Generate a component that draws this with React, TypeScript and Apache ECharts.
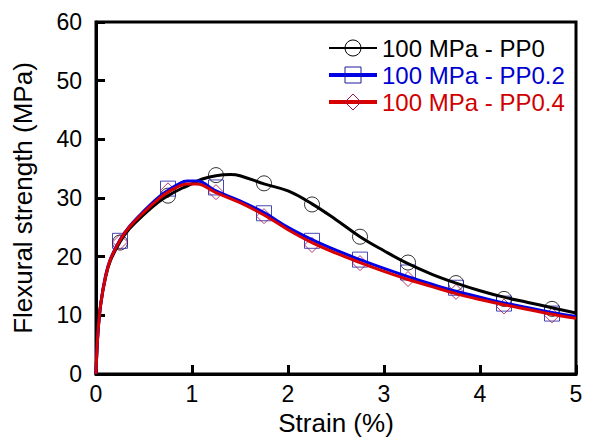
import React, { useEffect, useRef } from "react";
import * as echarts from "echarts";

// Smoothed curves (strain %, flexural strength MPa)
const curveStrainPP0 = [0, 0.02, 0.05, 0.1, 0.15, 0.25, 0.35, 0.5, 0.65, 0.75, 0.9, 1.0, 1.1, 1.25, 1.4, 1.5, 1.75, 2.0, 2.25, 2.5, 2.75, 3.0, 3.25, 3.5, 3.75, 4.0, 4.25, 4.5, 4.75, 5.0];
const curvePP0 = [0, 7, 12, 16.5, 19.3, 22.5, 24.8, 27.2, 29.3, 30.4, 31.7, 32.4, 33.2, 33.8, 34.0, 33.8, 32.4, 31.2, 29.0, 26.3, 23.4, 21.0, 18.8, 17.0, 15.5, 14.2, 13.1, 12.2, 11.3, 10.4];

const curveStrainPP = [0, 0.02, 0.05, 0.1, 0.15, 0.25, 0.35, 0.5, 0.65, 0.75, 0.85, 0.95, 1.05, 1.25, 1.5, 1.75, 2.0, 2.25, 2.5, 2.75, 3.0, 3.25, 3.5, 3.75, 4.0, 4.25, 4.5, 4.75, 5.0];
const curvePP02 = [0, 7, 12, 16.8, 19.6, 22.9, 25.2, 27.8, 30.1, 31.3, 32.3, 32.9, 32.9, 31.2, 29.5, 27.5, 25.0, 22.9, 21.1, 19.5, 18.0, 16.6, 15.3, 14.1, 13.1, 12.1, 11.3, 10.5, 9.8];
const curvePP04 = [0, 7, 12, 16.6, 19.5, 22.8, 25.1, 27.6, 29.8, 31.0, 31.9, 32.4, 32.4, 30.9, 29.2, 27.1, 24.6, 22.4, 20.6, 19.0, 17.5, 16.1, 14.9, 13.7, 12.7, 11.8, 11.0, 10.2, 9.5];

// Measured points (markers)
const markerStrain = [0.25, 0.75, 1.25, 1.75, 2.25, 2.75, 3.25, 3.75, 4.25, 4.75];
const markersPP0 = [22.4, 30.4, 33.9, 32.5, 28.9, 23.4, 19.0, 15.5, 12.8, 11.1];
const markersPP02 = [22.7, 31.6, 31.8, 27.4, 22.7, 19.5, 17.3, 14.7, 12.0, 10.3];
const markersPP04 = [22.5, 31.3, 31.0, 26.9, 22.0, 18.9, 16.2, 14.0, 11.5, 10.0];

const seriesNames = ["100 MPa - PP0", "100 MPa - PP0.2", "100 MPa - PP0.4"];
const xTicks = [0, 1, 2, 3, 4, 5];
const yTicks = [0, 10, 20, 30, 40, 50, 60];

const FONT = "'Liberation Sans', Arial, sans-serif";

const zip = (xs: number[], ys: number[]) => xs.map((x, i) => [x, ys[i]]);

export default function App() {
  const ref = useRef<HTMLDivElement>(null);

  useEffect(() => {
    if (!ref.current) return;
    const chart = echarts.init(ref.current, null, { renderer: "svg" });

    const defs = [
      { name: seriesNames[0], line: "#000000", text: "#000000", marker: "#000000", symbol: "circle", curveX: curveStrainPP0, curveY: curvePP0, mY: markersPP0, legendWidth: 2 },
      { name: seriesNames[1], line: "#0000e6", text: "#0000d0", marker: "#1a1aa0", symbol: "rect", curveX: curveStrainPP, curveY: curvePP02, mY: markersPP02, legendWidth: 4 },
      { name: seriesNames[2], line: "#d80000", text: "#d00000", marker: "#a0104a", symbol: "diamond", curveX: curveStrainPP, curveY: curvePP04, mY: markersPP04, legendWidth: 4 },
    ];

    const series: any[] = [];
    defs.forEach((d) => {
      series.push({
        name: d.name,
        type: "line",
        smooth: 0.4,
        data: zip(d.curveX, d.curveY),
        symbol: d.symbol,
        showSymbol: false,
        lineStyle: { color: d.line, width: 3 },
        itemStyle: { color: "transparent", borderColor: d.marker, borderWidth: 1 },
        z: 3,
      });
    });
    defs.forEach((d) => {
      series.push({
        name: d.name,
        type: "scatter",
        data: zip(markerStrain, d.mY),
        symbol: d.symbol,
        symbolSize: 15,
        itemStyle: { color: "transparent", borderColor: d.marker, borderWidth: 1 },
        z: 2,
      });
    });

    chart.setOption({
      animation: false,
      backgroundColor: "#ffffff",
      textStyle: { fontFamily: FONT },
      grid: {
        left: 96,
        right: 14,
        top: 22,
        bottom: 70,
        show: true,
        borderColor: "#000",
        borderWidth: 3,
        backgroundColor: "transparent",
      },
      legend: {
        orient: "vertical",
        left: 327,
        top: 36,
        padding: 0,
        itemGap: 3,
        itemWidth: 48,
        itemHeight: 20,
        itemStyle: { borderWidth: 1 },
        textStyle: { fontFamily: FONT, fontSize: 24, lineHeight: 24 },
        data: defs.map((d) => ({
          name: d.name,
          textStyle: { color: d.text, fontSize: 24, fontFamily: FONT },
          lineStyle: { color: d.line, width: d.legendWidth },
          itemStyle: { color: "transparent", borderColor: d.marker, borderWidth: 1 },
        })),
      },
      xAxis: {
        type: "value",
        min: xTicks[0],
        max: xTicks[xTicks.length - 1],
        interval: 1,
        name: "Strain (%)",
        nameLocation: "middle",
        nameGap: 34,
        nameTextStyle: { fontSize: 26, color: "#000", fontFamily: FONT },
        axisLine: { show: true, lineStyle: { color: "#000", width: 3 } },
        axisTick: { show: true, inside: true, length: 9, lineStyle: { color: "#000", width: 3 } },
        axisLabel: { fontSize: 23, color: "#000", margin: 8, fontFamily: FONT },
        splitLine: { show: false },
      },
      yAxis: {
        type: "value",
        min: yTicks[0],
        max: yTicks[yTicks.length - 1],
        interval: 10,
        name: "Flexural strength (MPa)",
        nameLocation: "middle",
        nameGap: 60,
        nameTextStyle: { fontSize: 26, color: "#000", fontFamily: FONT },
        axisLine: { show: true, lineStyle: { color: "#000", width: 3 } },
        axisTick: { show: true, inside: true, length: 9, lineStyle: { color: "#000", width: 3 } },
        axisLabel: { fontSize: 23, color: "#000", margin: 14, fontFamily: FONT },
        splitLine: { show: false },
      },
      series,
    });

    return () => chart.dispose();
  }, []);

  return (
    <div
      ref={ref}
      style={{ position: "fixed", left: 0, top: 0, width: 590, height: 444, background: "#fff" }}
    />
  );
}
